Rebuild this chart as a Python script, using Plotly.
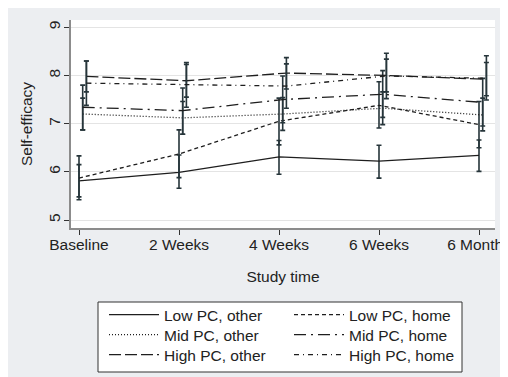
import plotly.graph_objects as go

# ---- data -------------------------------------------------------------
time_labels = ["Baseline", "2 Weeks", "4 Weeks", "6 Weeks", "6 Months"]
y_ticks = [5, 6, 7, 8, 9]

series_names = ["Low PC, other", "Low PC, home", "Mid PC, other",
                "Mid PC, home", "High PC, other", "High PC, home"]

low_other_mean = [5.81, 5.99, 6.31, 6.22, 6.34]
low_other_lo = [5.48, 5.66, 5.95, 5.87, 6.01]
low_other_hi = [6.15, 6.35, 6.65, 6.55, 6.66]

low_home_mean = [5.87, 6.37, 7.05, 7.38, 6.98]
low_home_lo = [5.42, 5.88, 6.56, 6.91, 6.50]
low_home_hi = [6.33, 6.87, 7.53, 7.87, 7.46]

mid_other_mean = [7.20, 7.12, 7.20, 7.32, 7.18]
mid_other_lo = [6.87, 6.78, 6.86, 6.98, 6.85]
mid_other_hi = [7.53, 7.46, 7.54, 7.66, 7.53]

mid_home_mean = [7.34, 7.27, 7.50, 7.61, 7.44]
mid_home_lo = [6.87, 6.78, 7.02, 7.13, 6.95]
mid_home_hi = [7.80, 7.74, 7.99, 8.10, 7.94]

high_other_mean = [7.98, 7.89, 8.05, 8.00, 7.92]
high_other_lo = [7.66, 7.55, 7.72, 7.66, 7.58]
high_other_hi = [8.30, 8.23, 8.37, 8.34, 8.27]

high_home_mean = [7.84, 7.81, 7.78, 7.99, 7.94]
high_home_lo = [7.38, 7.34, 7.32, 7.52, 7.49]
high_home_hi = [8.30, 8.27, 8.24, 8.46, 8.41]

means = [low_other_mean, low_home_mean, mid_other_mean,
         mid_home_mean, high_other_mean, high_home_mean]
lows = [low_other_lo, low_home_lo, mid_other_lo,
        mid_home_lo, high_other_lo, high_home_lo]
highs = [low_other_hi, low_home_hi, mid_other_hi,
         mid_home_hi, high_other_hi, high_home_hi]

# ---- styling ----------------------------------------------------------
dashes = ["solid", "4px,3px", "1px,2px", "12px,5px,2px,5px",
          "12px,4px", "5px,4px,1px,4px"]
offsets = [0.0, 0.0, 0.037, 0.037, 0.074, 0.074]  # small horizontal shift per PC level
LINE = "#1e1e1e"
ERR = "#26353a"
FONT = "Liberation Sans, Arial, sans-serif"

W, H = 508, 377
L, R, T, B = 63, 21, 12, 157
pw, ph = W - L - R, H - T - B

def px_x(p):
    return (p - L) / pw

def px_y(p):
    return (H - B - p) / ph

legend_keys = ["legend", "legend2", "legend3"]

fig = go.Figure()
for i, (name, m, lo, hi, d, off) in enumerate(zip(series_names, means, lows, highs, dashes, offsets)):
    xs = [k + off for k in range(len(time_labels))]
    fig.add_trace(go.Scatter(
        x=xs, y=m, name=name, mode="lines", legend=legend_keys[i // 2],
        line=dict(color=LINE, width=1.3, dash=d),
        error_y=dict(type="data", symmetric=False,
                     array=[h - v for h, v in zip(hi, m)],
                     arrayminus=[v - l for v, l in zip(m, lo)],
                     color=ERR, thickness=1.6, width=2.5),
    ))

row_centers = [307, 327, 347]
legend_common = dict(
    orientation="h", x=px_x(96), xanchor="left", yanchor="middle",
    entrywidth=120, entrywidthmode="pixels", itemwidth=50,
    bgcolor="rgba(0,0,0,0)", borderwidth=0,
    font=dict(family=FONT, size=15.5, color="#222"),
)

fig.update_layout(
    width=W, height=H,
    margin=dict(l=L, r=R, t=T, b=B, pad=0, autoexpand=False),
    paper_bgcolor="#eceef1",
    plot_bgcolor="white",
    font=dict(family=FONT, size=15, color="#222"),
    showlegend=True,
    legend=dict(legend_common, y=px_y(row_centers[0])),
    legend2=dict(legend_common, y=px_y(row_centers[1])),
    legend3=dict(legend_common, y=px_y(row_centers[2])),
    xaxis=dict(
        range=[-0.08, 4.16], tickmode="array",
        tickvals=list(range(len(time_labels))), ticktext=time_labels,
        showgrid=False, zeroline=False,
        showline=True, linecolor="#8c8c8c", linewidth=2,
        ticks="outside", ticklen=5, tickcolor="#333", tickwidth=1,
        tickfont=dict(size=15.5), ticklabeloverflow="allow",
        ticklabelstandoff=-4,
        title=dict(text="Study time", font=dict(size=15.5), standoff=20),
    ),
    yaxis=dict(
        range=[4.834, 9.151], tickmode="array", tickvals=y_ticks,
        tickangle=-90,
        showgrid=True, gridcolor="#e4e4e4", gridwidth=1, zeroline=False,
        showline=True, linecolor="#8c8c8c", linewidth=2,
        ticks="outside", ticklen=5, tickcolor="#333", tickwidth=1,
        tickfont=dict(size=15.5), ticklabelstandoff=-2,
        title=dict(text="Self-efficacy", font=dict(size=15.5), standoff=9),
    ),
    shapes=[
        dict(type="rect", xref="paper", yref="paper", layer="below",
             x0=px_x(90), x1=px_x(454), y0=px_y(364), y1=px_y(294),
             fillcolor="white", line=dict(color="#333", width=1)),
    ],
)

fig.write_html("out.html")
